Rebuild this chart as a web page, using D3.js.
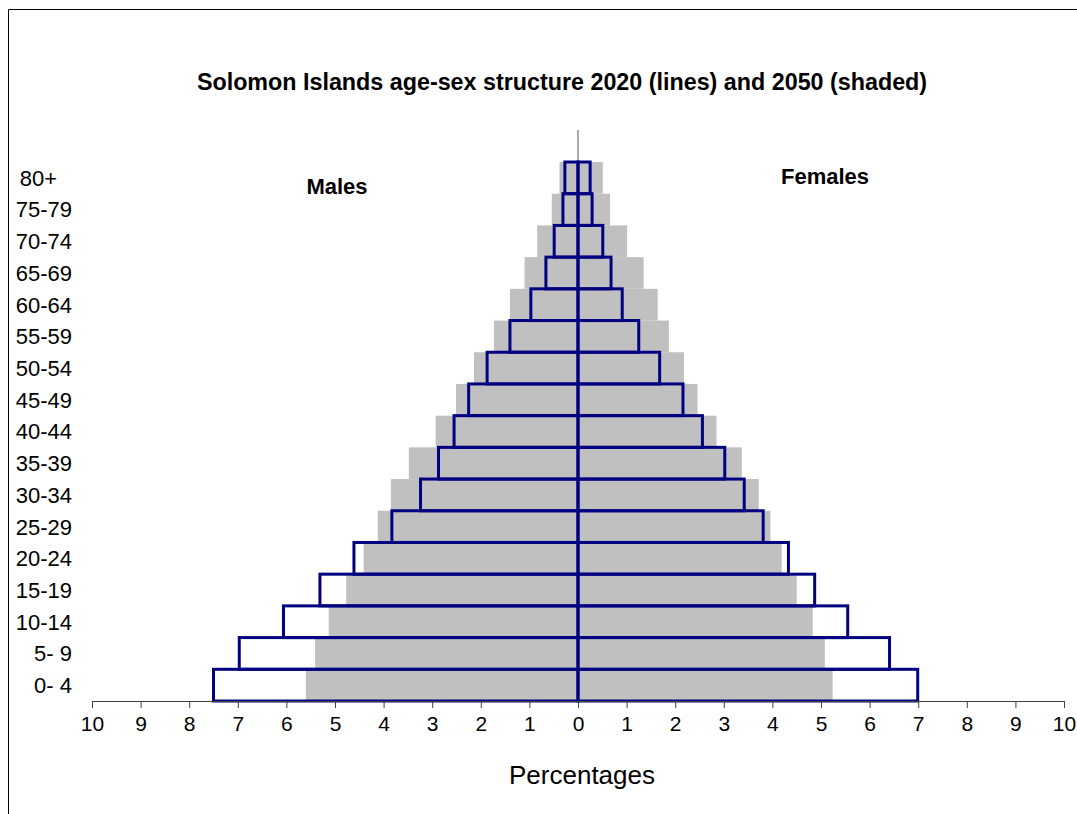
<!DOCTYPE html>
<html>
<head>
<meta charset="utf-8">
<script src="https://cdn.jsdelivr.net/npm/d3@7"></script>
<style>
  body { margin: 0; background: #fff; }
  svg { display: block; font-family: "Liberation Sans", Arial, sans-serif; }
</style>
</head>
<body>
<div id="chart"></div>
<script>
// age groups, bottom to top
const ages = ["0- 4", "5- 9", "10-14", "15-19", "20-24", "25-29", "30-34", "35-39", "40-44",
  "45-49", "50-54", "55-59", "60-64", "65-69", "70-74", "75-79", "80+"];

// 2020 (lines)
const male2020 = [7.50, 6.97, 6.06, 5.31, 4.61, 3.83, 3.24, 2.87, 2.55, 2.25, 1.87, 1.40, 0.97, 0.66, 0.49, 0.31, 0.27];
const female2020 = [6.99, 6.41, 5.55, 4.87, 4.33, 3.81, 3.42, 3.02, 2.56, 2.16, 1.68, 1.25, 0.91, 0.68, 0.51, 0.29, 0.25];

// 2050 (shaded)
const male2050 = [5.60, 5.41, 5.13, 4.77, 4.41, 4.12, 3.85, 3.48, 2.93, 2.51, 2.14, 1.73, 1.40, 1.10, 0.84, 0.54, 0.38];
const female2050 = [5.24, 5.08, 4.83, 4.50, 4.19, 3.96, 3.72, 3.37, 2.85, 2.46, 2.18, 1.87, 1.64, 1.35, 1.01, 0.66, 0.51];

const xTicks = d3.range(-10, 11, 1);

const W = 1077, H = 814;
const svg = d3.select("#chart").append("svg")
  .attr("width", W)
  .attr("height", H);

// outer frame (only top and left edges visible)
svg.append("path")
  .attr("d", "M8.5," + H + "V9.5H" + W)
  .attr("fill", "none")
  .attr("stroke", "#000")
  .attr("stroke-width", 1);

const x = d3.scaleLinear().domain([-10, 10]).range([92, 1064]);
const y = d3.scaleBand().domain(ages).range([701, 162]).padding(0);

// vertical zero axis line (gray, above the bars)
svg.append("line")
  .attr("x1", x(0)).attr("x2", x(0))
  .attr("y1", 130).attr("y2", 701)
  .attr("stroke", "#555").attr("stroke-width", 1);

// shaded 2050 bars
const shade = svg.append("g");
shade.selectAll(".m50").data(ages).enter().append("rect")
  .attr("x", (d, i) => x(-male2050[i]))
  .attr("y", d => y(d))
  .attr("width", (d, i) => x(0) - x(-male2050[i]))
  .attr("height", y.bandwidth())
  .attr("fill", "#c0c0c0");
shade.selectAll(".f50").data(ages).enter().append("rect")
  .attr("x", x(0))
  .attr("y", d => y(d))
  .attr("width", (d, i) => x(female2050[i]) - x(0))
  .attr("height", y.bandwidth())
  .attr("fill", "#c0c0c0");

// 2020 outlines
const lines = svg.append("g")
  .attr("fill", "none")
  .attr("stroke", "#000080")
  .attr("stroke-width", 3);
lines.selectAll(".m20").data(ages).enter().append("rect")
  .attr("x", (d, i) => x(-male2020[i]))
  .attr("y", d => y(d))
  .attr("width", (d, i) => x(0) - x(-male2020[i]))
  .attr("height", y.bandwidth());
lines.selectAll(".f20").data(ages).enter().append("rect")
  .attr("x", x(0))
  .attr("y", d => y(d))
  .attr("width", (d, i) => x(female2020[i]) - x(0))
  .attr("height", y.bandwidth());

// x axis
const xAxis = svg.append("g")
  .attr("transform", "translate(0,701)")
  .call(d3.axisBottom(x).tickValues(xTicks).tickFormat(d => Math.abs(d))
    .tickSize(7).tickSizeOuter(0).tickPadding(8));
xAxis.select(".domain").attr("stroke", "#404040");
xAxis.selectAll(".tick line").attr("stroke", "#404040");
xAxis.selectAll(".tick text")
  .attr("fill", "#000")
  .attr("font-size", "21px")
  .attr("font-family", "'Liberation Sans', Arial, sans-serif");

// age labels
svg.append("g").selectAll("text").data(ages).enter().append("text")
  .attr("x", 72)
  .attr("dx", d => d === "80+" ? -15 : 0)
  .attr("y", d => y(d) + y.bandwidth() / 2)
  .attr("dy", "0.36em")
  .attr("text-anchor", "end")
  .attr("font-size", "22px")
  .attr("fill", "#000")
  .text(d => d);

// title and labels
svg.append("text")
  .attr("x", 562).attr("y", 90)
  .attr("text-anchor", "middle")
  .attr("font-size", "23.3px")
  .attr("font-weight", "bold")
  .text("Solomon Islands age-sex structure 2020 (lines) and 2050 (shaded)");

svg.append("text")
  .attr("x", 337).attr("y", 194)
  .attr("text-anchor", "middle")
  .attr("font-size", "22px")
  .attr("font-weight", "bold")
  .text("Males");

svg.append("text")
  .attr("x", 825).attr("y", 184)
  .attr("text-anchor", "middle")
  .attr("font-size", "22px")
  .attr("font-weight", "bold")
  .text("Females");

svg.append("text")
  .attr("x", 582).attr("y", 784)
  .attr("text-anchor", "middle")
  .attr("font-size", "26px")
  .text("Percentages");
</script>
</body>
</html>
